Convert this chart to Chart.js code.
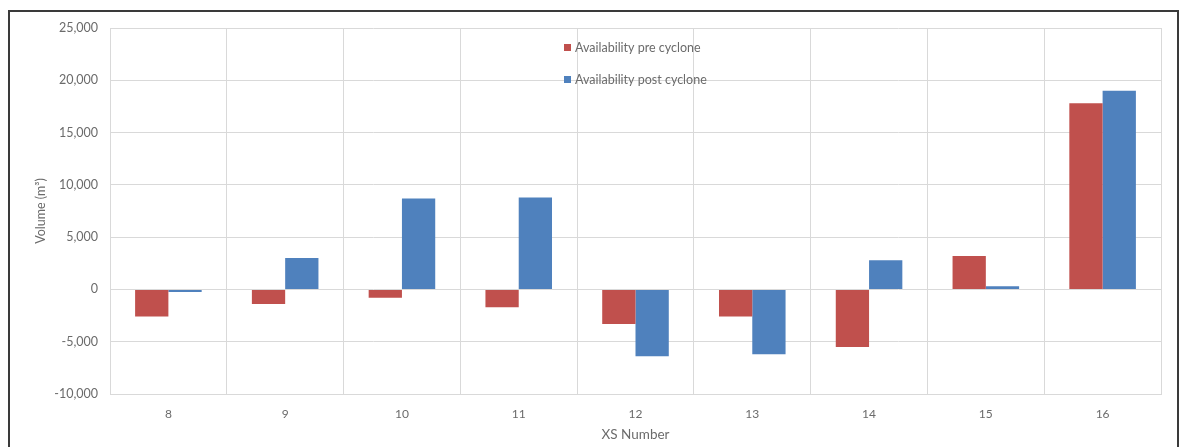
<!DOCTYPE html>
<html>
<head>
<meta charset="utf-8">
<script src="https://cdn.jsdelivr.net/npm/chart.js@4/dist/chart.umd.min.js"></script>
<style>
  html, body { margin: 0; padding: 0; background: #fff; }
  #wrap { position: relative; width: 1187px; height: 447px; overflow: hidden; }
  #frame { position: absolute; left: 8px; top: 10px; width: 1167px; height: 460px; border: 2px solid #3a3a3a; box-sizing: content-box; }
  canvas { position: absolute; left: 0; top: 0; }
</style>
</head>
<body>
<div id="wrap">
  <div id="frame"></div>
  <canvas id="chart" width="1187" height="447"></canvas>
</div>
<script>
// XS numbers along the bottom
const sections = ["8", "9", "10", "11", "12", "13", "14", "15", "16"];

// volumes (m3)
const preCyclone = [-2600, -1400, -800, -1700, -3300, -2600, -5500, 3200, 17800];
const postCyclone = [-250, 3000, 8700, 8800, -6400, -6200, 2800, 300, 19000];

const seriesNames = ["Availability pre cyclone", "Availability post cyclone"];
const seriesColors = ["#c0504d", "#4f81bd"];

const textColor = "#6b6b6b";
const gridColor = "#d9d9d9";
const fontFamily = "Lato, 'Open Sans', sans-serif";

// legend sits inside the plot, stacked vertically
const insideLegend = {
  id: "insideLegend",
  afterDatasetsDraw(chart) {
    const ctx = chart.ctx;
    ctx.save();
    ctx.font = "12.5px " + fontFamily;
    ctx.textBaseline = "middle";
    ctx.textAlign = "left";
    chart.data.datasets.forEach((ds, i) => {
      const y = 48 + i * 32;
      ctx.fillStyle = ds.backgroundColor;
      ctx.fillRect(564, y - 4, 7, 7);
      ctx.fillStyle = textColor;
      ctx.fillText(ds.label, 575, y);
    });
    ctx.restore();
  }
};

const ctx = document.getElementById("chart").getContext("2d");

new Chart(ctx, {
  type: "bar",
  data: {
    labels: sections,
    datasets: [
      {
        label: seriesNames[0],
        data: preCyclone,
        backgroundColor: seriesColors[0],
        categoryPercentage: 0.57,
        barPercentage: 1.0
      },
      {
        label: seriesNames[1],
        data: postCyclone,
        backgroundColor: seriesColors[1],
        categoryPercentage: 0.57,
        barPercentage: 1.0
      }
    ]
  },
  options: {
    responsive: false,
    animation: false,
    layout: { padding: { left: 0, right: 26, top: 28, bottom: 0 } },
    plugins: {
      legend: { display: false },
      tooltip: { enabled: false }
    },
    scales: {
      x: {
        grid: { color: gridColor, drawTicks: false, offset: true },
        border: { color: gridColor },
        ticks: { color: textColor, font: { family: fontFamily, size: 12 }, padding: 13 },
        title: {
          display: true,
          text: "XS Number",
          color: textColor,
          font: { family: fontFamily, size: 13.5 },
          padding: { top: 0, bottom: 4 }
        },
        afterFit: (scale) => { scale.height = 53; }
      },
      y: {
        min: -10000,
        max: 25000,
        grid: { color: gridColor, drawTicks: false },
        border: { color: gridColor },
        ticks: {
          stepSize: 5000,
          color: textColor,
          font: { family: fontFamily, size: 12.5 },
          padding: 12,
          callback: (v) => v.toLocaleString("en-US")
        },
        title: {
          display: true,
          text: "Volume (m³)",
          color: textColor,
          font: { family: fontFamily, size: 12.5 },
          padding: { top: 33, bottom: 0 }
        },
        afterFit: (scale) => { scale.width = 110; }
      }
    }
  },
  plugins: [insideLegend]
});
</script>
</body>
</html>
